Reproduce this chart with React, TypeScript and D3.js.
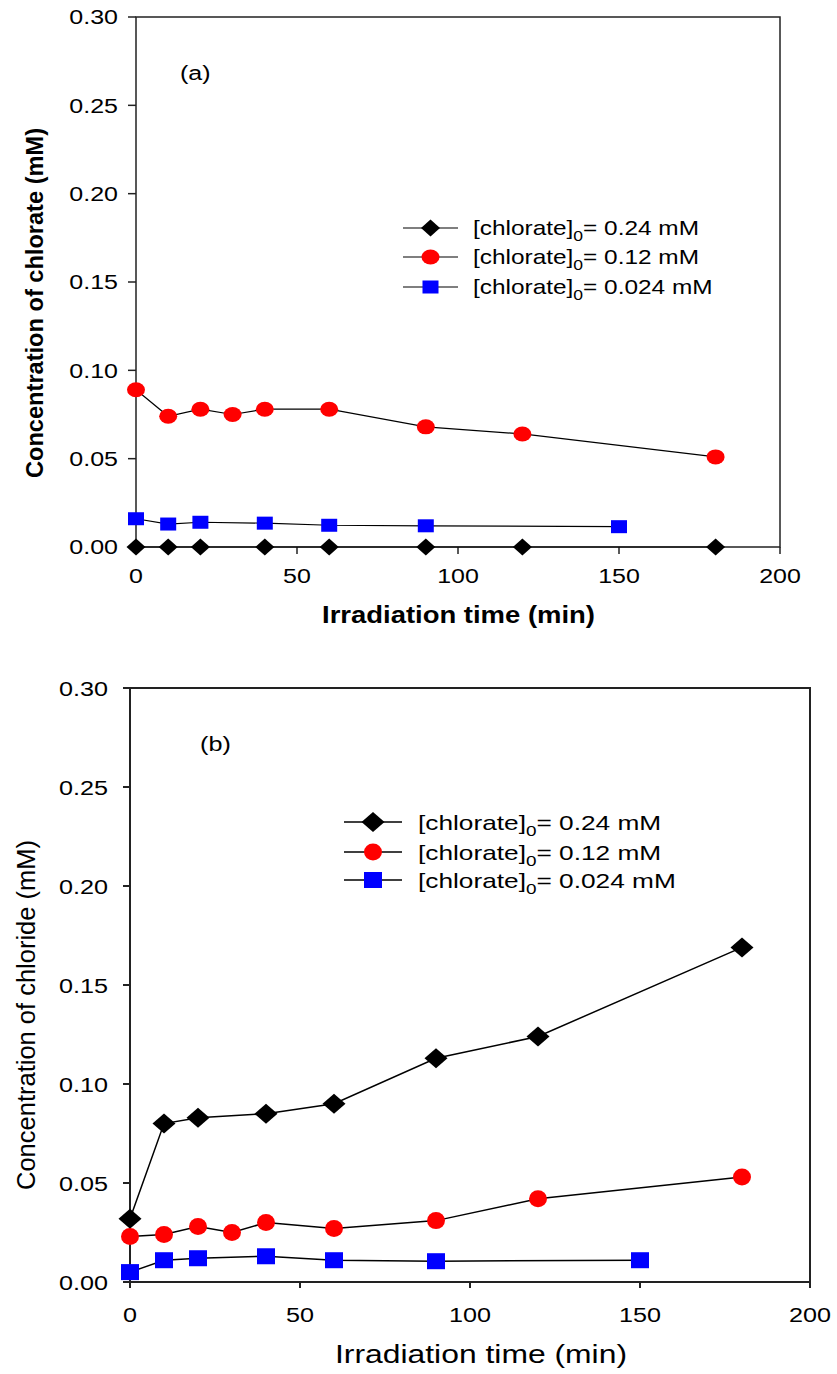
import React from 'react';
import * as d3 from 'd3';

// Irradiation times (min)
const timesDiamond = [0, 10, 20, 40, 60, 90, 120, 180];
const timesCircle = [0, 10, 20, 30, 40, 60, 90, 120, 180];
const timesSquare = [0, 10, 20, 40, 60, 90, 150];

// (a) chlorate concentration (mM)
const chlorateHigh = [0, 0, 0, 0, 0, 0, 0, 0];
const chlorateMid = [0.089, 0.074, 0.078, 0.075, 0.078, 0.078, 0.068, 0.064, 0.051];
const chlorateLow = [0.016, 0.013, 0.014, 0.0135, 0.0123, 0.012, 0.0115];

// (b) chloride concentration (mM)
const chlorideHigh = [0.032, 0.080, 0.083, 0.085, 0.090, 0.113, 0.124, 0.169];
const chlorideMid = [0.023, 0.024, 0.028, 0.025, 0.030, 0.027, 0.031, 0.042, 0.053];
const chlorideLow = [0.005, 0.011, 0.012, 0.013, 0.011, 0.0105, 0.011];

const xTicks = [0, 50, 100, 150, 200];
const yTicks = [0, 0.05, 0.1, 0.15, 0.2, 0.25, 0.3];
const legendLabels = ['0.24', '0.12', '0.024'];

type Marker = 'diamond' | 'circle' | 'square';

interface PanelCfg {
  left: number; right: number; top: number; bottom: number;
  tag: string; tagX: number; tagY: number; tagFont: number;
  tickFont: number; tickStretch: number; tickLabelGap: number; xTickBaseline: number;
  xTitle: string; xTitleBaseline: number; xTitleLeft: number; xTitleWidth: number; xTitleFont: number; xTitleWeight: string;
  yTitle: string; yTitleX: number; yTitleCenter: number; yTitleWidth: number; yTitleFont: number; yTitleWeight: string;
  legendLineX0: number; legendLineX1: number; legendTextX: number; legendRows: number[];
  legendFont: number; legendStretch: number;
  diamond: [number, number]; circle: [number, number]; square: [number, number];
  lineWidth: number; axisWidth: number; tickLen: number;
}

const FONT = 'Liberation Sans, Arial, sans-serif';

function MarkerShape({ kind, x, y, cfg }: { kind: Marker; x: number; y: number; cfg: PanelCfg }) {
  if (kind === 'diamond') {
    const [w, h] = cfg.diamond;
    return <path d={`M${x - w / 2},${y}L${x},${y - h / 2}L${x + w / 2},${y}L${x},${y + h / 2}Z`} fill="#000" />;
  }
  if (kind === 'circle') {
    const [w, h] = cfg.circle;
    return <ellipse cx={x} cy={y} rx={w / 2} ry={h / 2} fill="#ff0000" />;
  }
  const [w, h] = cfg.square;
  return <rect x={x - w / 2} y={y - h / 2} width={w} height={h} fill="#0000ff" />;
}

function Panel({ cfg, series }: { cfg: PanelCfg; series: { t: number[]; v: number[]; kind: Marker }[] }) {
  const x = d3.scaleLinear().domain([0, 200]).range([cfg.left, cfg.right]);
  const y = d3.scaleLinear().domain([0, 0.3]).range([cfg.bottom, cfg.top]);
  const line = d3.line<[number, number]>().x(d => x(d[0])).y(d => y(d[1]));
  const fmt = d3.format('.2f');
  const st = (px: number, py: number, s: number) => `translate(${px},${py}) scale(${s},1)`;

  return (
    <g fontFamily={FONT} fill="#000">
      {/* frame */}
      <rect x={cfg.left} y={cfg.top} width={cfg.right - cfg.left} height={cfg.bottom - cfg.top}
        fill="none" stroke="#222" strokeWidth={cfg.axisWidth} />
      {/* y ticks */}
      {yTicks.map(v => (
        <g key={'y' + v}>
          <line x1={cfg.left - cfg.tickLen} x2={cfg.left} y1={y(v)} y2={y(v)} stroke="#222" strokeWidth={cfg.axisWidth} />
          <text transform={st(cfg.left - cfg.tickLen - cfg.tickLabelGap, y(v) + cfg.tickFont * 0.36, cfg.tickStretch)}
            textAnchor="end" fontSize={cfg.tickFont}>{fmt(v)}</text>
        </g>
      ))}
      {/* x ticks */}
      {xTicks.map(v => (
        <g key={'x' + v}>
          <line x1={x(v)} x2={x(v)} y1={cfg.bottom} y2={cfg.bottom + cfg.tickLen - 1} stroke="#222" strokeWidth={cfg.axisWidth} />
          <text transform={st(x(v), cfg.xTickBaseline, cfg.tickStretch)} textAnchor="middle" fontSize={cfg.tickFont}>{v}</text>
        </g>
      ))}
      {/* axis titles */}
      <text x={cfg.xTitleLeft} y={cfg.xTitleBaseline} fontSize={cfg.xTitleFont} fontWeight={cfg.xTitleWeight}
        textLength={cfg.xTitleWidth} lengthAdjust="spacingAndGlyphs">{cfg.xTitle}</text>
      <text transform={`translate(${cfg.yTitleX},${cfg.yTitleCenter + cfg.yTitleWidth / 2}) rotate(-90)`}
        fontSize={cfg.yTitleFont} fontWeight={cfg.yTitleWeight}
        textLength={cfg.yTitleWidth} lengthAdjust="spacingAndGlyphs">{cfg.yTitle}</text>
      {/* panel tag */}
      <text transform={st(cfg.tagX, cfg.tagY, cfg.tickStretch)} fontSize={cfg.tagFont}>{cfg.tag}</text>
      {/* series */}
      {series.map((s, i) => {
        const pts = s.t.map((t, j) => [t, s.v[j]] as [number, number]);
        return (
          <g key={'s' + i}>
            <path d={line(pts) || ''} fill="none" stroke="#000" strokeWidth={cfg.lineWidth} />
            {pts.map((p, j) => <MarkerShape key={j} kind={s.kind} x={x(p[0])} y={y(p[1])} cfg={cfg} />)}
          </g>
        );
      })}
      {/* legend */}
      {series.map((s, i) => {
        const ly = cfg.legendRows[i];
        const mx = (cfg.legendLineX0 + cfg.legendLineX1) / 2;
        return (
          <g key={'l' + i}>
            <line x1={cfg.legendLineX0} x2={cfg.legendLineX1} y1={ly} y2={ly} stroke="#000" strokeWidth={cfg.lineWidth} />
            <MarkerShape kind={s.kind} x={mx} y={ly} cfg={cfg} />
            <text transform={st(cfg.legendTextX, ly + cfg.legendFont * 0.36, cfg.legendStretch)} fontSize={cfg.legendFont}>
              [chlorate]
              <tspan fontSize={cfg.legendFont * 0.72} dy={cfg.legendFont * 0.3}>0</tspan>
              <tspan dy={-cfg.legendFont * 0.3}>{`= ${legendLabels[i]} mM`}</tspan>
            </text>
          </g>
        );
      })}
    </g>
  );
}

const cfgA: PanelCfg = {
  left: 136, right: 780, top: 17, bottom: 547,
  tag: '(a)', tagX: 180, tagY: 80, tagFont: 20,
  tickFont: 20, tickStretch: 1.25, tickLabelGap: 10, xTickBaseline: 583,
  xTitle: 'Irradiation time (min)', xTitleBaseline: 623, xTitleLeft: 322, xTitleWidth: 273, xTitleFont: 23, xTitleWeight: 'bold',
  yTitle: 'Concentration of chlorate (mM)', yTitleX: 43, yTitleCenter: 303, yTitleWidth: 350, yTitleFont: 23, yTitleWeight: 'bold',
  legendLineX0: 403, legendLineX1: 458, legendTextX: 473, legendRows: [228, 257, 287],
  legendFont: 20, legendStretch: 1.22,
  diamond: [19, 17], circle: [18, 15], square: [16, 13],
  lineWidth: 1.2, axisWidth: 1.5, tickLen: 8,
};

const cfgB: PanelCfg = {
  left: 130, right: 810, top: 688, bottom: 1282,
  tag: '(b)', tagX: 200, tagY: 751, tagFont: 21,
  tickFont: 21, tickStretch: 1.2, tickLabelGap: 15, xTickBaseline: 1322,
  xTitle: 'Irradiation time (min)', xTitleBaseline: 1363, xTitleLeft: 335, xTitleWidth: 292, xTitleFont: 26, xTitleWeight: 'normal',
  yTitle: 'Concentration of chloride (mM)', yTitleX: 35, yTitleCenter: 1015, yTitleWidth: 350, yTitleFont: 25, yTitleWeight: 'normal',
  legendLineX0: 344, legendLineX1: 402, legendTextX: 418, legendRows: [822, 852, 880],
  legendFont: 21, legendStretch: 1.25,
  diamond: [23, 20], circle: [18, 17], square: [18, 16],
  lineWidth: 1.5, axisWidth: 2, tickLen: 7,
};

export default function App() {
  const seriesA = [
    { t: timesDiamond, v: chlorateHigh, kind: 'diamond' as Marker },
    { t: timesCircle, v: chlorateMid, kind: 'circle' as Marker },
    { t: timesSquare, v: chlorateLow, kind: 'square' as Marker },
  ];
  const seriesB = [
    { t: timesDiamond, v: chlorideHigh, kind: 'diamond' as Marker },
    { t: timesCircle, v: chlorideMid, kind: 'circle' as Marker },
    { t: timesSquare, v: chlorideLow, kind: 'square' as Marker },
  ];
  return (
    <svg width={837} height={1374} style={{ position: 'absolute', left: 0, top: 0, background: '#fff' }}>
      <rect width={837} height={1374} fill="#fff" />
      <Panel cfg={cfgA} series={seriesA} />
      <Panel cfg={cfgB} series={seriesB} />
    </svg>
  );
}
